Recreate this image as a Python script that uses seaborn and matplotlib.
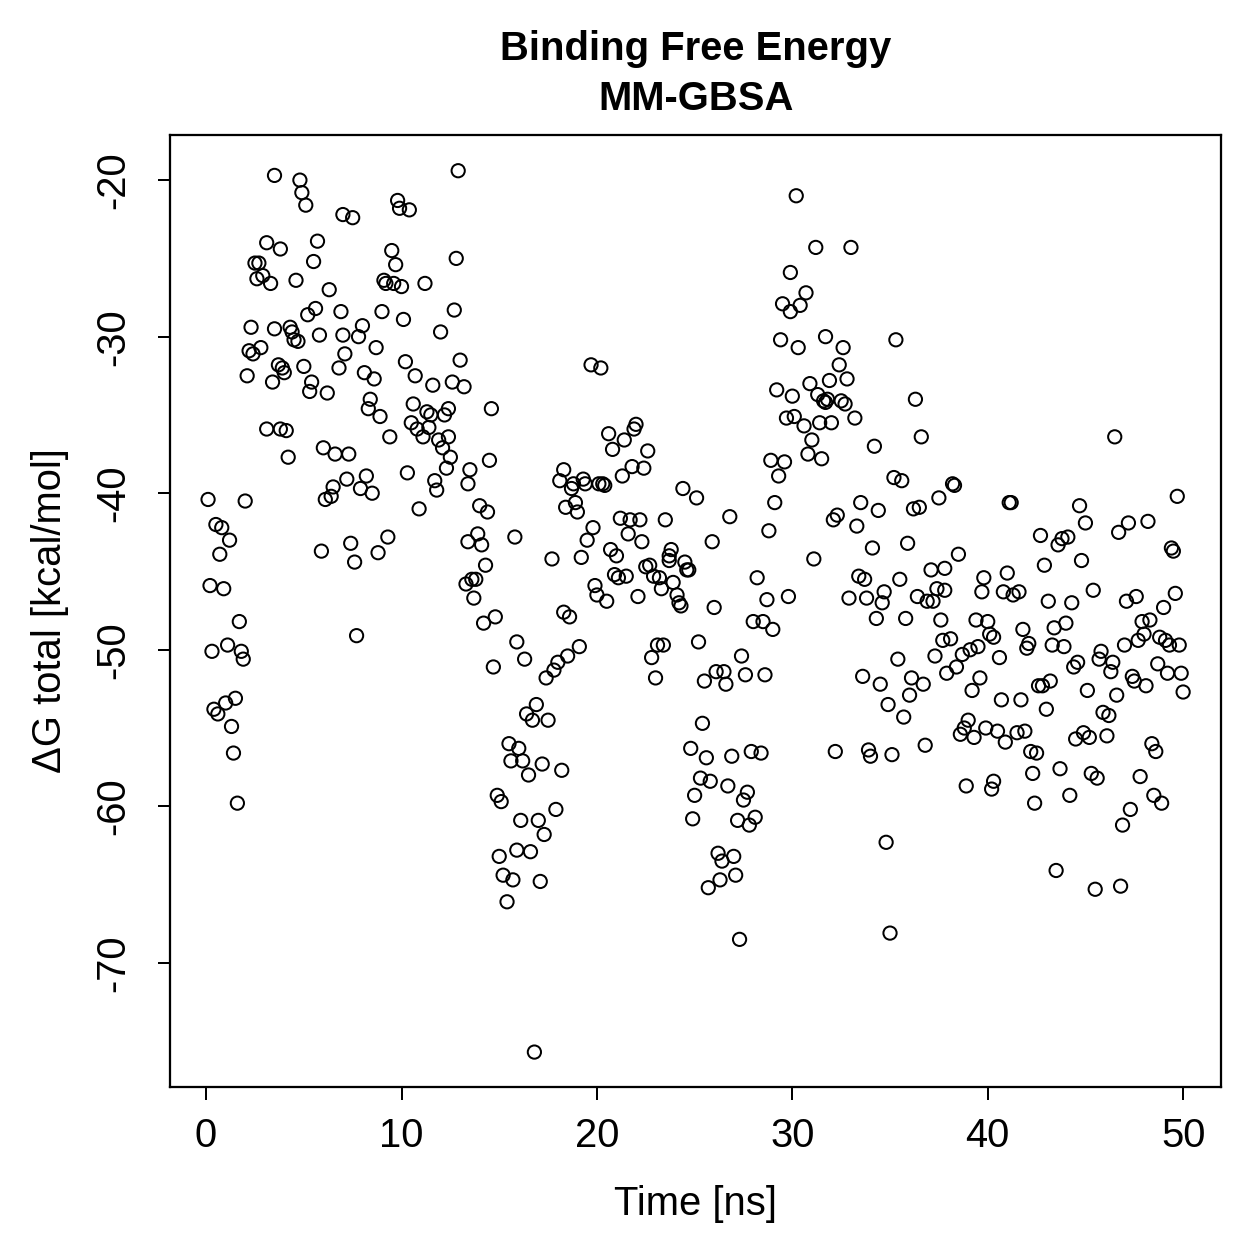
import matplotlib
matplotlib.use("Agg")
import matplotlib.pyplot as plt
import seaborn as sns
import numpy as np
import pandas as pd

# values (time in ns, dG in kcal/mol)
time_ns = [
    0.1, 0.2, 0.3, 0.4, 0.5, 0.6, 0.7, 0.8, 0.9, 1.0, 1.1, 1.2, 1.3, 1.4, 1.5, 1.6, 1.7, 1.8, 1.9, 2.0,
    2.1, 2.2, 2.3, 2.4, 2.5, 2.6, 2.7, 2.8, 2.9, 3.1, 3.1, 3.3, 3.4, 3.5, 3.5, 3.7, 3.8, 3.8, 3.9, 4.0,
    4.1, 4.2, 4.3, 4.4, 4.5, 4.6, 4.7, 4.8, 4.9, 5.0, 5.1, 5.2, 5.3, 5.4, 5.5, 5.6, 5.7, 5.8, 5.9, 6.0,
    6.1, 6.2, 6.3, 6.4, 6.5, 6.6, 6.8, 6.9, 7.0, 7.0, 7.1, 7.2, 7.3, 7.4, 7.5, 7.6, 7.7, 7.8, 7.9, 8.0,
    8.1, 8.2, 8.3, 8.4, 8.5, 8.6, 8.7, 8.8, 8.9, 9.0, 9.1, 9.2, 9.3, 9.4, 9.5, 9.6, 9.7, 9.8, 9.9, 10.0,
    10.1, 10.2, 10.3, 10.4, 10.5, 10.6, 10.7, 10.8, 10.9, 11.1, 11.2, 11.3, 11.4, 11.5, 11.6, 11.7, 11.8, 11.9, 12.0, 12.1,
    12.2, 12.3, 12.4, 12.4, 12.5, 12.6, 12.7, 12.8, 12.9, 13.0, 13.2, 13.3, 13.4, 13.4, 13.5, 13.6, 13.7, 13.8, 13.9, 14.0,
    14.1, 14.2, 14.3, 14.4, 14.5, 14.6, 14.7, 14.8, 14.9, 15.0, 15.1, 15.2, 15.4, 15.5, 15.6, 15.7, 15.8, 15.9, 15.9, 16.0,
    16.1, 16.2, 16.3, 16.4, 16.5, 16.6, 16.7, 16.8, 16.9, 17.0, 17.1, 17.2, 17.3, 17.4, 17.5, 17.7, 17.8, 17.9, 18.0, 18.1,
    18.2, 18.3, 18.3, 18.4, 18.5, 18.6, 18.7, 18.8, 18.9, 19.0, 19.1, 19.2, 19.3, 19.4, 19.5, 19.7, 19.8, 19.9, 20.0, 20.1,
    20.2, 20.3, 20.4, 20.5, 20.6, 20.7, 20.8, 20.9, 21.0, 21.1, 21.2, 21.3, 21.4, 21.5, 21.6, 21.7, 21.8, 21.9, 22.0, 22.1,
    22.2, 22.3, 22.4, 22.5, 22.6, 22.7, 22.8, 22.9, 23.0, 23.1, 23.2, 23.3, 23.4, 23.5, 23.7, 23.7, 23.8, 23.9, 24.1, 24.2,
    24.3, 24.4, 24.5, 24.6, 24.7, 24.8, 24.9, 25.0, 25.1, 25.2, 25.3, 25.4, 25.5, 25.6, 25.7, 25.8, 25.9, 26.0, 26.1, 26.2,
    26.3, 26.4, 26.5, 26.6, 26.7, 26.8, 26.9, 27.0, 27.1, 27.2, 27.3, 27.4, 27.5, 27.6, 27.7, 27.8, 27.9, 28.0, 28.1, 28.2,
    28.4, 28.5, 28.6, 28.7, 28.8, 28.9, 29.0, 29.1, 29.2, 29.3, 29.4, 29.5, 29.6, 29.7, 29.8, 29.9, 29.9, 30.0, 30.1, 30.2,
    30.3, 30.4, 30.6, 30.7, 30.8, 30.9, 31.0, 31.1, 31.2, 31.3, 31.4, 31.5, 31.6, 31.7, 31.7, 31.8, 31.9, 32.0, 32.1, 32.2,
    32.3, 32.4, 32.5, 32.6, 32.7, 32.8, 32.9, 33.0, 33.2, 33.3, 33.4, 33.5, 33.6, 33.7, 33.8, 33.9, 34.0, 34.1, 34.2, 34.3,
    34.4, 34.5, 34.6, 34.7, 34.8, 34.9, 35.0, 35.1, 35.2, 35.3, 35.4, 35.5, 35.6, 35.7, 35.8, 35.9, 36.0, 36.1, 36.2, 36.3,
    36.4, 36.5, 36.6, 36.7, 36.8, 36.9, 37.1, 37.2, 37.3, 37.4, 37.5, 37.6, 37.7, 37.8, 37.8, 37.9, 38.1, 38.2, 38.3, 38.4,
    38.5, 38.6, 38.7, 38.8, 38.9, 39.0, 39.1, 39.2, 39.3, 39.4, 39.5, 39.6, 39.7, 39.8, 39.9, 40.0, 40.1, 40.2, 40.3, 40.3,
    40.5, 40.6, 40.7, 40.8, 40.9, 41.0, 41.1, 41.2, 41.3, 41.5, 41.6, 41.7, 41.8, 41.9, 42.0, 42.1, 42.2, 42.3, 42.4, 42.5,
    42.6, 42.7, 42.8, 42.9, 43.0, 43.1, 43.2, 43.3, 43.4, 43.5, 43.6, 43.7, 43.8, 43.9, 44.0, 44.1, 44.2, 44.3, 44.4, 44.5,
    44.6, 44.7, 44.8, 44.9, 45.0, 45.1, 45.2, 45.3, 45.4, 45.5, 45.6, 45.7, 45.8, 45.9, 46.1, 46.2, 46.3, 46.4, 46.5, 46.6,
    46.7, 46.8, 46.9, 47.0, 47.1, 47.2, 47.3, 47.4, 47.5, 47.6, 47.7, 47.8, 47.9, 48.0, 48.1, 48.2, 48.3, 48.4, 48.5, 48.6,
    48.7, 48.8, 48.9, 49.0, 49.1, 49.2, 49.3, 49.4, 49.5, 49.6, 49.7, 49.8, 49.9, 50.0,
]
dg_total = [
    -40.4, -45.9, -50.1, -53.8, -42.0, -54.1, -43.9, -42.2, -46.1, -53.4, -49.7, -43.0, -54.9, -56.6, -53.1, -59.8, -48.2, -50.1, -50.6, -40.5,
    -32.5, -30.9, -29.4, -31.1, -25.3, -26.3, -25.3, -30.7, -26.1, -35.9, -24.0, -26.6, -32.9, -19.7, -29.5, -31.8, -24.4, -35.9, -32.0, -32.3,
    -36.0, -37.7, -29.4, -29.7, -30.2, -26.4, -30.3, -20.0, -20.8, -31.9, -21.6, -28.6, -33.5, -32.9, -25.2, -28.2, -23.9, -29.9, -43.7, -37.1,
    -40.4, -33.6, -27.0, -40.2, -39.6, -37.5, -32.0, -28.4, -22.2, -29.9, -31.1, -39.1, -37.5, -43.2, -22.4, -44.4, -49.1, -30.0, -39.7, -29.3,
    -32.3, -38.9, -34.6, -34.0, -40.0, -32.7, -30.7, -43.8, -35.1, -28.4, -26.4, -26.6, -42.8, -36.4, -24.5, -26.6, -25.4, -21.3, -21.8, -26.8,
    -28.9, -31.6, -38.7, -21.9, -35.5, -34.3, -32.5, -35.9, -41.0, -36.4, -26.6, -34.8, -35.8, -35.0, -33.1, -39.2, -39.8, -36.6, -29.7, -37.1,
    -35.0, -38.4, -34.6, -36.4, -37.7, -32.9, -28.3, -25.0, -19.4, -31.5, -33.2, -45.8, -43.1, -39.4, -38.5, -45.5, -46.7, -45.5, -42.6, -40.8,
    -43.3, -48.3, -44.6, -41.2, -37.9, -34.6, -51.1, -47.9, -59.3, -63.2, -59.7, -64.4, -66.1, -56.0, -57.1, -64.7, -42.8, -62.8, -49.5, -56.3,
    -60.9, -57.1, -50.6, -54.1, -58.0, -62.9, -54.5, -75.7, -53.5, -60.9, -64.8, -57.3, -61.8, -51.8, -54.5, -44.2, -51.3, -60.2, -50.8, -39.2,
    -57.7, -47.6, -38.5, -40.9, -50.4, -47.9, -39.7, -39.4, -40.6, -41.2, -49.8, -44.1, -39.1, -39.4, -43.0, -31.8, -42.2, -45.9, -46.5, -39.4,
    -32.0, -39.4, -39.5, -46.9, -36.2, -43.6, -37.2, -45.2, -44.0, -45.4, -41.6, -38.9, -36.6, -45.3, -42.6, -41.7, -38.3, -35.9, -35.6, -46.6,
    -41.7, -43.1, -38.4, -44.7, -37.3, -44.6, -50.5, -45.3, -51.8, -49.7, -45.4, -46.1, -49.7, -41.7, -44.3, -44.0, -43.6, -45.7, -46.5, -47.0,
    -47.2, -39.7, -44.4, -44.9, -44.9, -56.3, -60.8, -59.3, -40.3, -49.5, -58.2, -54.7, -52.0, -56.9, -65.2, -58.4, -43.1, -47.3, -51.4, -63.0,
    -64.7, -63.5, -51.4, -52.2, -58.7, -41.5, -56.8, -63.2, -64.4, -60.9, -68.5, -50.4, -59.6, -51.6, -59.1, -61.2, -56.5, -48.2, -60.7, -45.4,
    -56.6, -48.2, -51.6, -46.8, -42.4, -37.9, -48.7, -40.6, -33.4, -38.9, -30.2, -27.9, -38.0, -35.2, -46.6, -28.4, -25.9, -33.8, -35.1, -21.0,
    -30.7, -28.0, -35.7, -27.2, -37.5, -33.0, -36.6, -44.2, -24.3, -33.7, -35.5, -37.8, -34.1, -34.2, -30.0, -34.0, -32.8, -35.5, -41.7, -56.5,
    -41.4, -31.8, -34.1, -30.7, -34.3, -32.7, -46.7, -24.3, -35.2, -42.1, -45.3, -40.6, -51.7, -45.5, -46.7, -56.4, -56.8, -43.5, -37.0, -48.0,
    -41.1, -52.2, -47.0, -46.3, -62.3, -53.5, -68.1, -56.7, -39.0, -30.2, -50.6, -45.5, -39.2, -54.3, -48.0, -43.2, -52.9, -51.8, -41.0, -34.0,
    -46.6, -40.9, -36.4, -52.2, -56.1, -46.9, -44.9, -46.9, -50.4, -46.1, -40.3, -48.1, -49.4, -46.2, -44.8, -51.5, -49.3, -39.4, -39.5, -51.1,
    -43.9, -55.4, -50.3, -55.0, -58.7, -54.5, -50.0, -52.6, -55.6, -48.1, -49.8, -51.8, -46.3, -45.4, -55.0, -48.2, -49.0, -58.9, -58.4, -49.2,
    -55.2, -50.5, -53.2, -46.3, -55.9, -45.1, -40.6, -40.6, -46.5, -55.3, -46.3, -53.2, -48.7, -55.2, -49.9, -49.6, -56.5, -57.9, -59.8, -56.6,
    -52.3, -42.7, -52.3, -44.6, -53.8, -46.9, -52.0, -49.7, -48.6, -64.1, -43.3, -57.6, -42.9, -49.8, -48.3, -42.8, -59.3, -47.0, -51.1, -55.7,
    -50.8, -40.8, -44.3, -55.3, -41.9, -52.6, -55.6, -57.9, -46.2, -65.3, -58.2, -50.6, -50.1, -54.0, -55.5, -54.2, -51.4, -50.8, -36.4, -52.9,
    -42.5, -65.1, -61.2, -49.7, -46.9, -41.9, -60.2, -51.7, -52.0, -46.6, -49.4, -58.1, -48.2, -49.0, -52.3, -41.8, -48.1, -56.0, -59.3, -56.5,
    -50.9, -49.2, -59.8, -47.3, -49.4, -51.5, -49.7, -43.5, -43.7, -46.4, -40.2, -49.7, -51.5, -52.7,
]

df = pd.DataFrame({"time": time_ns, "dg": dg_total})

sns.set_theme(style="white")
plt.rcParams["font.family"] = ["Liberation Sans", "DejaVu Sans"]
plt.rcParams["axes.unicode_minus"] = False

fig = plt.figure(figsize=(1259 / 180, 1259 / 180), dpi=180)
ax = fig.add_axes([0.135, 0.137, 0.835, 0.756])

sns.scatterplot(data=df, x="time", y="dg", ax=ax, marker="o", s=28,
                facecolor="none", edgecolor="black", linewidth=0.8)

ax.set_xlim(-1.85, 51.95)
ax.set_ylim(-77.9, -17.1)
ax.set_xticks([0, 10, 20, 30, 40, 50])
ax.set_yticks([-20, -30, -40, -50, -60, -70])

for side in ax.spines.values():
    side.set_color("black")
    side.set_linewidth(0.9)

ax.tick_params(axis="both", direction="out", length=5, width=0.8,
               color="black", labelsize=16, labelcolor="black",
               bottom=True, left=True)
ax.tick_params(axis="x", pad=7)
ax.tick_params(axis="y", pad=10)
for lab in ax.get_yticklabels():
    lab.set_rotation(90)
    lab.set_va("center")

ax.set_xlabel("Time [ns]", fontsize=16, color="black", labelpad=12)
ax.set_ylabel("ΔG total [kcal/mol]", fontsize=16, color="black", labelpad=10)
ax.set_title("Binding Free Energy\nMM-GBSA", fontsize=16, fontweight="bold",
             color="black", pad=10, linespacing=1.38)

fig.savefig("out.png", dpi=180)
